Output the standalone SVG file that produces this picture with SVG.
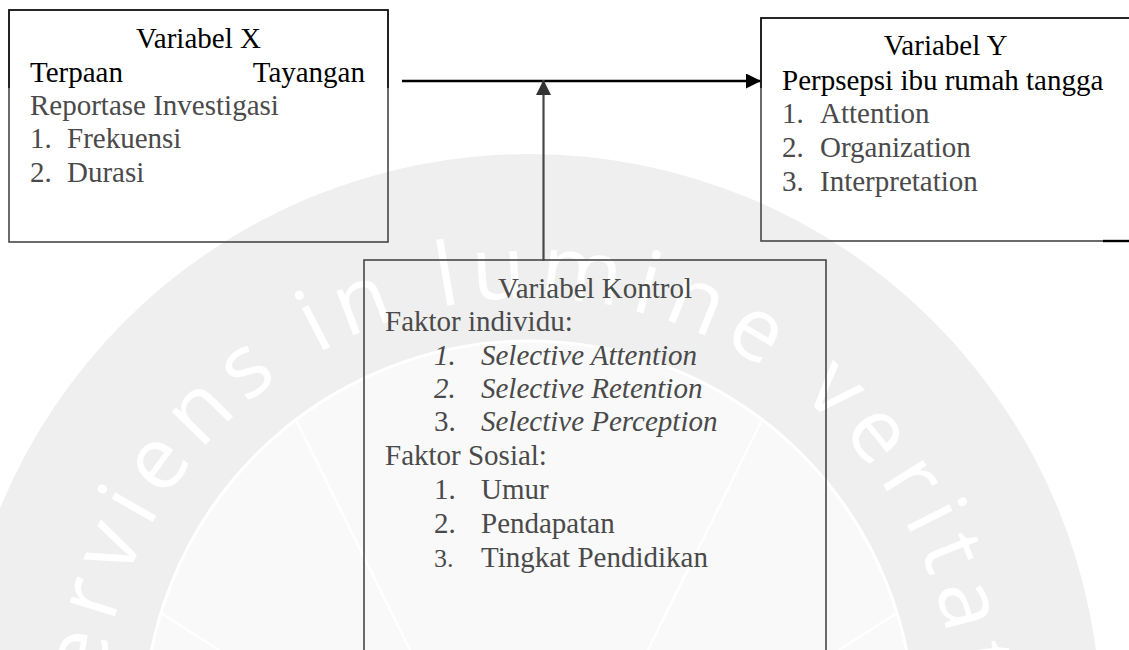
<svg xmlns="http://www.w3.org/2000/svg" xmlns:xlink="http://www.w3.org/1999/xlink" width="1129" height="650" viewBox="0 0 1129 650">
  <style>
    .t { font-family: "Liberation Serif", "Times New Roman", serif; font-size: 29px; }
    .k { fill: #000000; }
    .g { fill: #4a4a4a; }
    .it { font-style: italic; }
    .box { fill: none; stroke: #474747; stroke-width: 1.6; }
    .edge { fill: none; stroke: #111111; stroke-width: 1.6; }
    .wm { font-family: "Open Sans", "DejaVu Sans", sans-serif; font-size: 88px; fill: #ffffff; letter-spacing: 11px; }
    .spoke { stroke: #ffffff; stroke-width: 2.5; fill: none; }
  </style>
  <defs>
    <path id="wmArc" d="M 529 1154 A 428 428 0 1 1 529 298 A 428 428 0 1 1 529 1154"/>
    <marker id="ahBlack" markerWidth="16" markerHeight="16" refX="15" refY="7.5" orient="auto" markerUnits="userSpaceOnUse">
      <path d="M0,0 L15,7.5 L0,15 Z" fill="#000000"/>
    </marker>
    <marker id="ahGray" markerWidth="16" markerHeight="16" refX="15" refY="7.5" orient="auto" markerUnits="userSpaceOnUse">
      <path d="M0,0 L15,7.5 L0,15 Z" fill="#333333"/>
    </marker>
  </defs>

  <rect x="0" y="0" width="1129" height="650" fill="#ffffff"/>

  <g id="watermark">
    <circle cx="529" cy="726" r="572" fill="#efefef"/>
    <circle cx="529" cy="726" r="385" fill="#f9f9f9" stroke="#ffffff" stroke-width="3"/>
    <line class="spoke" x1="296" y1="420" x2="410" y2="650"/>
    <line class="spoke" x1="762" y1="420" x2="648" y2="650"/>
    <line class="spoke" x1="161" y1="613" x2="219" y2="650"/>
    <line class="spoke" x1="897" y1="613" x2="839" y2="650"/>
    <text class="wm"><textPath xlink:href="#wmArc" href="#wmArc" startOffset="662">serviens in lumine veritatis</textPath></text>
  </g>

  <g id="connectors">
    <line x1="402" y1="81" x2="761" y2="81" stroke="#000000" stroke-width="2.6" marker-end="url(#ahBlack)"/>
    <line x1="543.5" y1="261" x2="543.5" y2="80" stroke="#474747" stroke-width="2.2" marker-end="url(#ahGray)"/>
  </g>

  <g id="node-x">
    <rect class="box" x="9" y="10" width="379" height="232"/>
    <path class="edge" d="M9,88 V10 H388 V88"/>
    <text class="t k" x="198.5" y="48" text-anchor="middle">Variabel X</text>
    <text class="t k" x="30" y="82">Terpaan</text>
    <text class="t k" x="365" y="82" text-anchor="end">Tayangan</text>
    <text class="t g" x="30" y="115">Reportase Investigasi</text>
    <text class="t g" x="30" y="148">1.</text>
    <text class="t g" x="67" y="148">Frekuensi</text>
    <text class="t g" x="30" y="182">2.</text>
    <text class="t g" x="67" y="182">Durasi</text>
  </g>

  <g id="node-y">
    <rect class="box" x="761" y="18" width="369" height="223"/>
    <path class="edge" d="M761,88 V18 H1130"/>
    <path d="M1103,241 H1130" stroke="#000000" stroke-width="2.4" fill="none"/>
    <text class="t k" x="945.5" y="55" text-anchor="middle">Variabel Y</text>
    <text class="t k" x="782" y="89.5">Perpsepsi ibu rumah tangga</text>
    <text class="t g" x="782" y="123">1.</text>
    <text class="t g" x="820" y="123">Attention</text>
    <text class="t g" x="782" y="156.5">2.</text>
    <text class="t g" x="820" y="156.5">Organization</text>
    <text class="t g" x="782" y="190.5">3.</text>
    <text class="t g" x="820" y="190.5">Interpretation</text>
  </g>

  <g id="node-kontrol">
    <rect class="box" x="364" y="260" width="462" height="400"/>
    <text class="t g" x="595" y="298" text-anchor="middle">Variabel Kontrol</text>
    <text class="t g" x="385" y="331">Faktor individu:</text>
    <text class="t g it" x="434" y="364.5">1.</text>
    <text class="t g it" x="481" y="364.5">Selective Attention</text>
    <text class="t g it" x="434" y="398">2.</text>
    <text class="t g it" x="481" y="398">Selective Retention</text>
    <text class="t g" x="434" y="431">3.</text>
    <text class="t g it" x="481" y="431">Selective Perception</text>
    <text class="t g" x="385" y="465">Faktor Sosial:</text>
    <text class="t g" x="434" y="499">1.</text>
    <text class="t g" x="481" y="499">Umur</text>
    <text class="t g" x="434" y="533">2.</text>
    <text class="t g" x="481" y="533">Pendapatan</text>
    <text class="t g" x="434" y="567" style="font-size:26px">3.</text>
    <text class="t g" x="481" y="567">Tingkat Pendidikan</text>
  </g>
</svg>
